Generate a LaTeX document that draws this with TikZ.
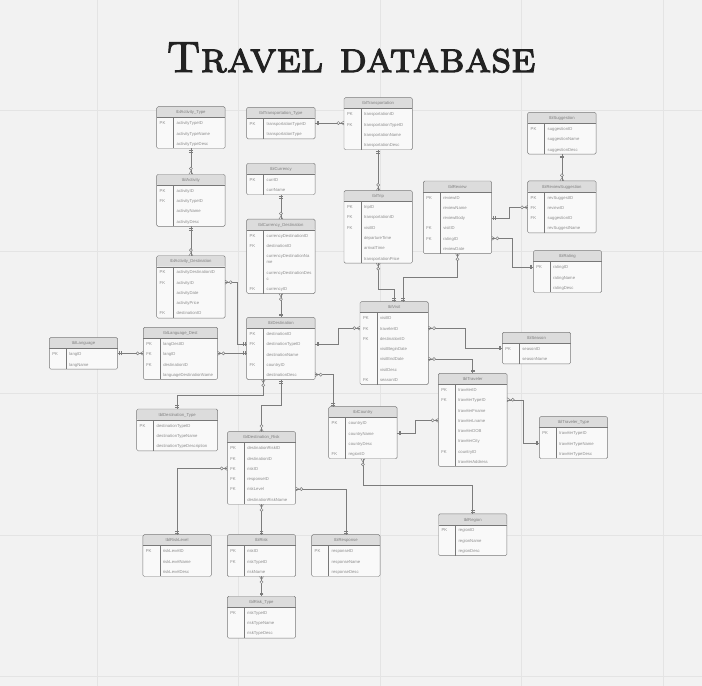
\documentclass[tikz,border=0pt]{standalone}
\usepackage{fontspec}
\setsansfont{Liberation Sans}
\newfontfamily\titlefont[Extension=.otf, FakeBold=2.5]{lmromancaps10-regular}
\usepackage{array}
\usepackage{xcolor}
\usetikzlibrary{positioning}
\usetikzlibrary{decorations.markings}

\definecolor{bgc}{HTML}{F2F2F2}
\definecolor{gridc}{HTML}{E4E4E4}
\definecolor{tblfillc}{HTML}{F9F9F9}
\definecolor{tblheadc}{HTML}{DCDCDC}
\definecolor{tbledgec}{HTML}{787878}
\definecolor{txtc}{HTML}{8C8C8C}
\definecolor{linec}{HTML}{7C7C7C}
\definecolor{titlec}{HTML}{222222}

% one table: [width]{name}{placement}{title}{rows}
\newcommand{\ertable}[5][3.42cm]{%
  \node[tbl, #3] (#2) {\begin{tabular}{@{\hspace{0.15cm}}p{0.6cm}@{\hspace{0.25cm}}p{\dimexpr#1-1cm\relax}@{}}
      \multicolumn{2}{@{}c@{}}{\rule[-0.19cm]{0pt}{0.55cm}\color{gray}#4}\\
      #5
    \end{tabular}};
  \draw[tbledge] ([yshift=-0.55cm]#2.north west) -- ([yshift=-0.55cm]#2.north east);
  \draw[tbledge] ([xshift=0.85cm,yshift=-0.55cm]#2.north west) -- ([xshift=0.85cm]#2.south west);
}

\begin{document}
\begin{tikzpicture}[
    tbl/.style={
        draw=tbledgec,
        line width=0.6pt,
        rounded corners=2pt,
        fill=tblfillc,
        inner sep=0pt,
        outer sep=0pt,
        text=txtc,
        font=\fontsize{6}{14.6}\selectfont\sffamily,
        path picture={\fill[tblheadc] (path picture bounding box.north west) rectangle ([yshift=-0.55cm]path picture bounding box.north east);}
    },
    tbledge/.style={draw=tbledgec, line width=0.6pt},
    gridline/.style={draw=gridc, line width=0.6pt},
    title/.style={font=\fontsize{62}{64}\titlefont, text=titlec},
    rel/.style={draw=linec, line width=0.7pt, postaction={decorate},
        decoration={markings,
            mark=at position 2.5pt with {\draw[linec, line width=0.7pt] (0,-2.8pt) -- (0,2.8pt);},
            mark=at position 5pt with {\draw[linec, line width=0.7pt] (0,-2.8pt) -- (0,2.8pt);},
            mark=at position -4.5pt with {\draw[linec, line width=0.7pt] (4.5pt,2.8pt) -- (0,0) -- (4.5pt,-2.8pt);},
            mark=at position -8pt with {\draw[linec, line width=0.7pt, fill=bgc] (0,0) circle (2.2pt);}
        }
    }]

    % Background and grid
    \fill[bgc] (0,0) rectangle (35.1,-34.3);
    \useasboundingbox (0,0) rectangle (35.1,-34.3);
    \foreach \gx in {4.85,11.93,19,26.08,33.15}
        \draw[gridline] (\gx,0) -- (\gx,-34.3);
    \foreach \gy in {5.5,12.55,19.65,26.75,33.8}
        \draw[gridline] (0,-\gy) -- (35.1,-\gy);

    % Title
    \node[title, anchor=base] (head) at (17.55,-3.6) {Travel database};

    % Activity tables
    \ertable{acttype}{anchor=north west, at={(7.835,-5.335)}}{tblActivity\_Type}{%
        PK & activityTypeID\\ & activityTypeName\\ & activityTypeDesc}
    \ertable{act}{below=1.29cm of acttype}{tblActivity}{%
        PK & activityID\\ FK & activityTypeID\\ & activityName\\ & activityDesc}
    \ertable{actdest}{below=1.47cm of act}{tblActivity\_Destination}{%
        PK & activityDestinationID\\ FK & activityID\\ & activityDate\\ & activityPrice\\ FK & destinationID}

    % Transportation and currency tables
    \ertable{trtype}{anchor=north west, at={(12.335,-5.365)}}{tblTransportation\_Type}{%
        PK & transportationTypeID\\ & transportationType}
    \ertable{transp}{anchor=north west, at={(17.2,-4.885)}}{tblTransportation}{%
        PK & transportationID\\ FK & transportationTypeID\\ & transportationName\\ & transportationDesc}
    \ertable{trip}{below=2.04cm of transp}{tblTrip}{%
        PK & tripID\\ FK & transportationID\\ FK & visitID\\ & departureTime\\ & arrivalTime\\ & transportationPrice}
    \ertable{curr}{below=1.22cm of trtype}{tblCurrency}{%
        PK & currID\\ & currName}
    \ertable{currdest}{below=1.22cm of curr}{tblCurrency\_Destination}{%
        PK & currencyDestinationID\\ FK & destinationID\\
        & currencyDestinationNa\par\vspace{-6pt}me\\
        & currencyDestinationDes\par\vspace{-6pt}c\\
        FK & currencyID}

    % Review tables
    \ertable{review}{anchor=north west, at={(21.165,-9.05)}}{tblReview}{%
        PK & reviewID\\ & reviewName\\ & reviewBody\\ FK & visitID\\ FK & ratingID\\ & reviewDate}
    \ertable{sugg}{anchor=north west, at={(26.385,-5.615)}}{tblSuggestion}{%
        PK & suggestionID\\ & suggestionName\\ & suggestionDesc}
    \ertable{revsugg}{below=1.34cm of sugg}{tblReviewSuggestion}{%
        PK & revSuggestID\\ FK & reviewID\\ FK & suggestionID\\ & revSuggestName}
    \ertable{rating}{anchor=north west, at={(26.665,-12.535)}}{tblRating}{%
        PK & ratingID\\ & ratingName\\ & ratingDesc}

    % Destination and language tables
    \ertable{dest}{anchor=north west, at={(12.335,-15.865)}}{tblDestination}{%
        PK & destinationID\\ FK & destinationTypeID\\ & destinationName\\ FK & countryID\\ & destinationDesc}
    \ertable[3.72cm]{langdest}{anchor=north west, at={(7.165,-16.365)}}{tblLanguage\_Dest}{%
        PK & langDestID\\ FK & langID\\ FK & destinationID\\ & languageDestinationName}
    \ertable{lang}{left=1.28cm of langdest}{tblLanguage}{%
        PK & langID\\ & langName}
    \ertable[4.05cm]{desttype}{anchor=north west, at={(6.835,-20.45)}}{tblDestination\_Type}{%
        PK & destinationTypeID\\ & destinationTypeName\\ & destinationTypeDescription}

    % Visit and traveler tables
    \ertable{visit}{anchor=north west, at={(18.0,-15.085)}}{tblVisit}{%
        PK & visitID\\ FK & travelerID\\ FK & destinationID\\ & visitBeginDate\\ & visitEndDate\\ & visitDesc\\ FK & seasonID}
    \ertable{season}{anchor=north west, at={(25.115,-16.615)}}{tblSeason}{%
        PK & seasonID\\ & seasonName}
    \ertable[3.44cm]{trav}{anchor=north west, at={(21.915,-18.665)}}{tblTraveler}{%
        PK & travelerID\\ FK & travelerTypeID\\ & travelerFname\\ & travelerLname\\ & travelerDOB\\ & travelerCity\\ FK & countryID\\ & travelerAddress}
    \ertable{travtype}{anchor=north west, at={(26.965,-20.835)}}{tblTraveler\_Type}{%
        PK & travelerTypeID\\ & travelerTypeName\\ & travelerTypeDesc}
    \ertable{country}{anchor=north west, at={(16.435,-20.335)}}{tblCountry}{%
        PK & countryID\\ & countryName\\ & countryDesc\\ FK & regionID}
    \ertable{region}{below=2.37cm of trav}{tblRegion}{%
        PK & regionID\\ & regionName\\ & regionDesc}

    % Risk tables
    \ertable{destrisk}{anchor=north west, at={(11.365,-21.585)}}{tblDestination\_Risk}{%
        PK & destinationRiskID\\ FK & destinationID\\ FK & riskID\\ FK & responseID\\ FK & riskLevel\\ & destinationRiskName}
    \ertable{risk}{below=1.52cm of destrisk}{tblRisk}{%
        PK & riskID\\ FK & riskTypeID\\ & riskName}
    \ertable{risklvl}{left=0.8cm of risk}{tblRiskLevel}{%
        PK & riskLevelID\\ & riskLevelName\\ & riskLevelDesc}
    \ertable{resp}{right=0.8cm of risk}{tblResponse}{%
        PK & responseID\\ & responseName\\ & responseDesc}
    \ertable{risktype}{below=0.99cm of risk}{tblRisk\_Type}{%
        PK & riskTypeID\\ & riskTypeName\\ & riskTypeDesc}

    % Activity relations
    \draw[rel] (acttype.south) -- (act.north);
    \draw[rel] (act.south) -- (actdest.north);
    \draw[rel] ([yshift=-1.3225cm]dest.north west) -- ++(-0.48,0) |- ([yshift=-1.3225cm]actdest.north east);
    \draw[rel] (lang.east) -- (langdest.west);
    \draw[rel] (langdest.east -| dest.west) -- (langdest.east);

    % Transportation relations
    \draw[rel] (trtype.east) -- (trtype.east -| transp.west);
    \draw[rel] (transp.south) -- (trip.north);
    \draw[rel] (visit.north) -- ++(0,0.63) -| (trip.south);
    \draw[rel] ([xshift=0.43cm]visit.north) -- ++(0,1.2) -| (review.south);

    % Currency relations
    \draw[rel] (curr.south) -- (currdest.north);
    \draw[rel] (dest.north) -- (currdest.south);

    % Review relations
    \draw[rel] (sugg.south) -- (revsugg.north);
    \draw[rel] ([yshift=-1.8375cm]review.north east) -- ++(0.88,0) |- ([yshift=-1.3225cm]revsugg.north west);
    \draw[rel] ([yshift=-0.8075cm]rating.north west) -- ++(-1.05,0) |- ([yshift=-2.8675cm]review.north east);

    % Visit relations
    \draw[rel] ([yshift=-1.3225cm]dest.north east) -- ++(1.17,0) |- ([yshift=-1.3225cm]visit.north west);
    \draw[rel] (season.west) -- ++(-1.87,0) |- ([yshift=-1.3225cm]visit.north east);
    \draw[rel] (trav.north) |- ([yshift=-2.8675cm]visit.north east);
    \draw[rel] ([yshift=-1.3225cm]travtype.north west) -- ++(-0.8,0) |- ([yshift=-1.3225cm]trav.north east);

    % Country relations
    \draw[rel] ([xshift=0.23cm]country.north west) |- ([yshift=-2.8675cm]dest.north east);
    \draw[rel] ([yshift=-1.3225cm]country.north east) -- ++(0.92,0) |- ([yshift=-2.3525cm]trav.north west);
    \draw[rel] (region.north) -- ++(0,1.42) -| (country.south);

    % Destination risk relations
    \draw[rel] (desttype.north) -- ++(0,0.7) -| ([xshift=0.83cm]dest.south west);
    \draw[rel] (dest.south) -- ++(0,-1.28) -| (destrisk.north);
    \draw[rel] (risklvl.north) |- ([yshift=-1.8375cm]destrisk.north west);
    \draw[rel] (risk.north) -- (destrisk.south);
    \draw[rel] (resp.north) |- ([yshift=-2.8675cm]destrisk.north east);
    \draw[rel] (risktype.north) -- (risk.south);

\end{tikzpicture}
\end{document}
